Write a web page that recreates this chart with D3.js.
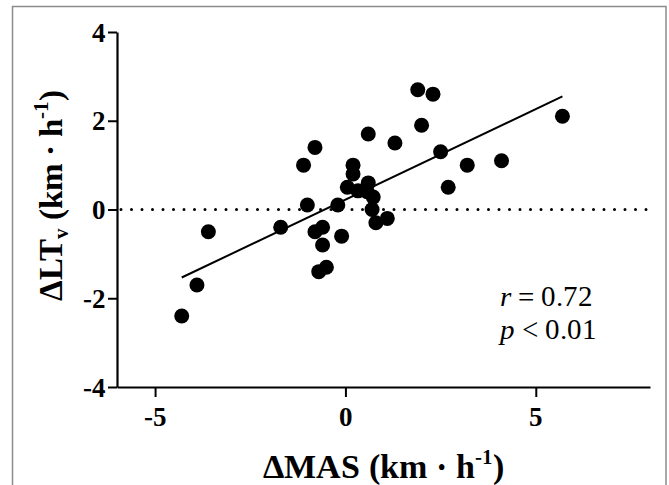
<!DOCTYPE html>
<html>
<head>
<meta charset="utf-8">
<script src="https://cdn.jsdelivr.net/npm/d3@7"></script>
<style>
  body { margin: 0; background: #fff; }
  @font-face { font-family: "ChartSerif"; font-weight: 700; font-style: normal;
    src: local("Liberation Serif Bold"), local("LiberationSerif-Bold"); }
  @font-face { font-family: "ChartSerif"; font-weight: 400; font-style: normal;
    src: local("Liberation Serif"), local("LiberationSerif"); }
  @font-face { font-family: "ChartSerif"; font-weight: 400; font-style: italic;
    src: local("Liberation Serif Italic"), local("LiberationSerif-Italic"); }
</style>
</head>
<body>
<svg width="669" height="485"></svg>
<script>
// data
const deltaMAS = [-4.3, -3.9, -3.6, -1.7, -1.1, -1.0, -0.8, -0.8, -0.6, -0.6, -0.7, -0.5,
  -0.1, -0.2, 0.05, 0.2, 0.2, 0.33, 0.6, 0.57, 0.73, 0.7, 0.8, 1.1, 0.6, 1.3,
  1.9, 2.3, 2.0, 2.5, 3.2, 4.1, 2.7, 5.7];
const deltaLTv = [-2.4, -1.7, -0.5, -0.4, 1.0, 0.1, 1.4, -0.5, -0.4, -0.8, -1.4, -1.3,
  -0.6, 0.1, 0.5, 1.0, 0.8, 0.42, 0.6, 0.4, 0.28, 0.0, -0.3, -0.2, 1.7, 1.5,
  2.7, 2.6, 1.9, 1.3, 1.0, 1.1, 0.5, 2.1];
const xTicks = [-5, 0, 5];
const yTicks = [-4, -2, 0, 2, 4];
const fitSlope = 0.408;
const fitIntercept = 0.222;
const statLines = ["r", "p"];

const FONT = '"ChartSerif", "Liberation Serif", serif';
const points = deltaMAS.map((d, i) => ({ x: d, y: deltaLTv[i] }));

const svg = d3.select("svg").style("font-family", FONT);

// frame around the figure
svg.append("rect")
  .attr("x", 12.5).attr("y", 6.5)
  .attr("width", 653.5).attr("height", 500)
  .attr("fill", "none")
  .attr("stroke", "#8c8c8c")
  .attr("stroke-width", 1.5);

const x = d3.scaleLinear().domain([-6, 8]).range([117, 650]);
const y = d3.scaleLinear().domain([-4, 4]).range([387, 32]);

// zero reference line
svg.append("line")
  .attr("x1", x(-6) + 4).attr("x2", x(8))
  .attr("y1", y(0)).attr("y2", y(0))
  .attr("stroke", "#000")
  .attr("stroke-width", 3)
  .attr("stroke-linecap", "round")
  .attr("stroke-dasharray", "0 10.5");

const xAxis = svg.append("g")
  .attr("transform", `translate(0,${y(-4)})`)
  .call(d3.axisBottom(x).tickValues(xTicks).tickSize(10).tickSizeOuter(0).tickPadding(10).tickFormat(d3.format("d")));

const yAxis = svg.append("g")
  .attr("transform", `translate(${x(-6)},0)`)
  .call(d3.axisLeft(y).tickValues(yTicks).tickSize(9).tickSizeOuter(0).tickPadding(2).tickFormat(d3.format("d")));

[xAxis, yAxis].forEach(g => {
  g.attr("font-family", null).attr("font-size", null);
  g.select(".domain").attr("stroke-width", 2.2);
  g.selectAll(".tick line").attr("stroke-width", 2);
  g.selectAll(".tick text")
    .style("font-family", FONT)
    .style("font-weight", "700")
    .style("font-size", "27px")
    .attr("fill", "#000")
    .text(d => d < 0 ? "-" + Math.abs(d) : d);
});
yAxis.selectAll(".tick text").attr("dy", "0.34em");

// regression line
const xExt = d3.extent(deltaMAS);
svg.append("line")
  .attr("x1", x(xExt[0])).attr("y1", y(fitIntercept + fitSlope * xExt[0]))
  .attr("x2", x(xExt[1])).attr("y2", y(fitIntercept + fitSlope * xExt[1]))
  .attr("stroke", "#000")
  .attr("stroke-width", 2);

// points
svg.append("g").selectAll("circle")
  .data(points)
  .join("circle")
  .attr("cx", d => x(d.x))
  .attr("cy", d => y(d.y))
  .attr("r", 7.5)
  .attr("fill", "#000");

// stats text
const t1 = svg.append("text").attr("x", 500).attr("y", 306)
  .style("font-family", FONT).style("font-size", "29px");
t1.append("tspan").style("font-style", "italic").text(statLines[0]);
t1.append("tspan").text(" = 0.72");
const t2 = svg.append("text").attr("x", 500).attr("y", 339)
  .style("font-family", FONT).style("font-size", "29px");
t2.append("tspan").style("font-style", "italic").text(statLines[1]);
t2.append("tspan").text(" < 0.01");

// axis titles
const xt = svg.append("text")
  .attr("x", 383).attr("y", 478)
  .attr("text-anchor", "middle")
  .style("font-family", FONT)
  .style("font-weight", "700")
  .style("font-size", "34px");
xt.append("tspan").text("ΔMAS (km · h");
xt.append("tspan").style("font-size", "21px").attr("dy", -14).text("-1");
xt.append("tspan").attr("dy", 14).text(")");

const yt = svg.append("text")
  .attr("transform", "translate(62,195) rotate(-90)")
  .attr("text-anchor", "middle")
  .style("font-family", FONT)
  .style("font-weight", "700")
  .style("font-size", "33px");
yt.append("tspan").text("ΔLT");
yt.append("tspan").style("font-size", "21px").attr("dy", 6).text("v");
yt.append("tspan").attr("dy", -6).text(" (km · h");
yt.append("tspan").style("font-size", "21px").attr("dy", -14).text("-1");
yt.append("tspan").attr("dy", 14).text(")");
</script>
</body>
</html>
